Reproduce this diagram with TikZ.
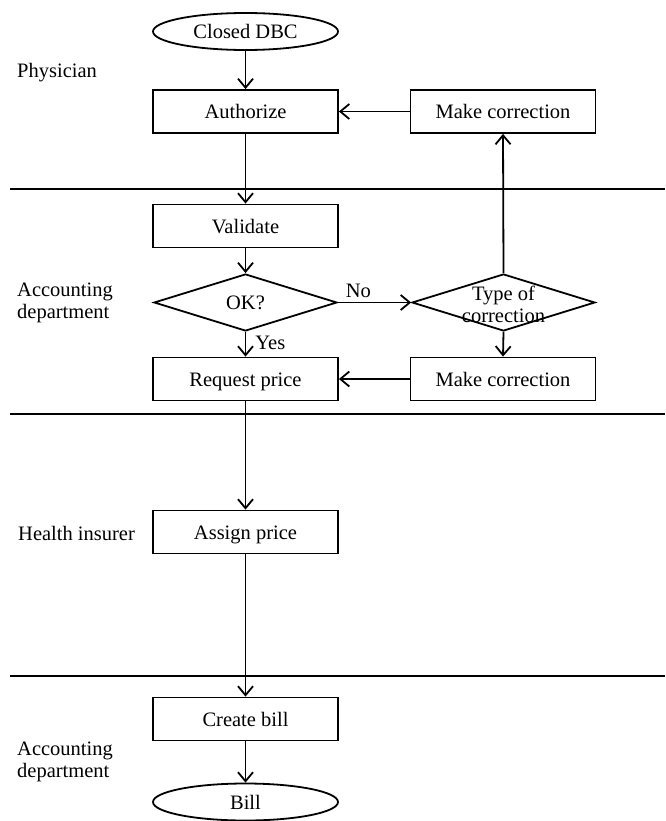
\documentclass[tikz,border=0pt]{standalone}
\usepackage{fontspec}
\setmainfont{Liberation Serif}
\usetikzlibrary{shapes.geometric,arrows.meta}
\begin{document}
\begin{tikzpicture}[x=1pt,y=-1pt,
 font=\fontsize{20.5}{22}\selectfont,
 box/.style={draw,line width=1.8pt,minimum width=185pt,minimum height=43pt,inner sep=0,text height=16pt,text depth=2pt},
 term/.style={draw,ellipse,line width=1.8pt,minimum width=185pt,minimum height=37pt,inner sep=0,text height=16pt,text depth=2pt},
 dec/.style={draw,diamond,line width=1.8pt,minimum width=183pt,minimum height=57pt,inner sep=0},
 arr/.style={line width=1.8pt,-{Straight Barb[length=9pt,width=15pt]}},
 lane/.style={line width=1.8pt},
 lbl/.style={align=left,anchor=west,inner sep=0}]
\fill[white] (0,0) rectangle (665,821);
\useasboundingbox (0,0) rectangle (665,821);
% lanes
\coordinate (l1a) at (10,189); \coordinate (l1b) at (665,189);
\coordinate (l2a) at (10,414); \coordinate (l2b) at (665,414);
\coordinate (l3a) at (10,676); \coordinate (l3b) at (665,676);
\draw[lane] (l1a) -- (l1b);
\draw[lane] (l2a) -- (l2b);
\draw[lane] (l3a) -- (l3b);
% lane labels
\node[lbl] (lp) at (17,73) {Physician};
\node[lbl] (la1) at (17,303) {Accounting\\department};
\node[lbl] (lh) at (18,533) {Health insurer};
\node[lbl] (la2) at (17,762) {Accounting\\department};
% nodes
\node[term] (start) at (245.5,31.5) {Closed DBC};
\node[box] (auth) at (245.5,111.5) {Authorize};
\node[box] (mc1) at (503,111.5) {Make correction};
\node[box] (val) at (245.5,226) {Validate};
\node[dec] (ok) at (245.5,302.5) {};
\node[text height=16pt,text depth=2pt,inner sep=0] (okt) at (ok) {OK?};
\node[dec] (ty) at (503.5,302.5) {};
\node[align=center] (tyt) at (503.5,304) {Type of\\correction};
\node[box] (req) at (245.5,379) {Request price};
\node[box] (mc2) at (503,379) {Make correction};
\node[box] (asg) at (245.5,532) {Assign price};
\node[box] (cb) at (245.5,719) {Create bill};
\node[term] (bill) at (245.5,802) {Bill};
% edges
\draw[arr] (start) -- (auth);
\draw[arr] (auth) -- (val);
\draw[arr] (val) -- (ok.north);
\draw[arr] (ok.south) -- node[right,inner sep=0pt,pos=0.45,xshift=9pt] (yes) {Yes} (req);
\draw[arr] (ok.east) -- node[above,inner sep=4pt,pos=0.28] (no) {No} (ty.west);
\draw[arr] (ty.north) -- (mc1.south);
\draw[arr] (ty.south) -- (mc2.north);
\draw[arr] (mc1) -- (auth);
\draw[arr] (mc2) -- (req);
\draw[arr] (req) -- (asg);
\draw[arr] (asg) -- (cb);
\draw[arr] (cb) -- (bill);
\end{tikzpicture}
\end{document}
